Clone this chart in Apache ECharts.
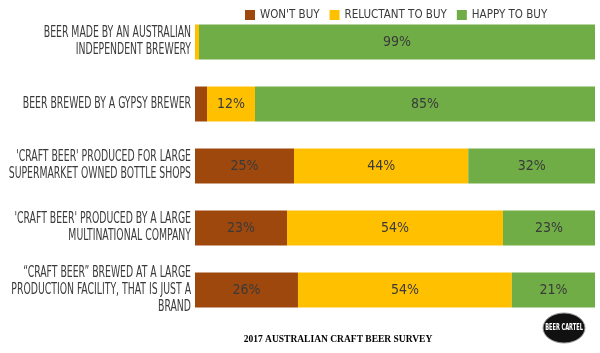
<!DOCTYPE html>
<html>
<head>
<meta charset="utf-8">
<script src="https://cdn.jsdelivr.net/npm/echarts@6/dist/echarts.min.js"></script>
<style>
  html, body { margin: 0; padding: 0; background: #fff; }
  #chart { width: 600px; height: 353px; }
</style>
</head>
<body>
<div id="chart"></div>
<script>
const categories = [
  'BEER MADE BY AN AUSTRALIAN\nINDEPENDENT BREWERY',
  'BEER BREWED BY A GYPSY BREWER',
  "'CRAFT BEER' PRODUCED FOR LARGE\nSUPERMARKET OWNED BOTTLE SHOPS",
  "'CRAFT BEER' PRODUCED BY A LARGE\nMULTINATIONAL COMPANY",
  '\u201CCRAFT BEER\u201D BREWED AT A LARGE\nPRODUCTION FACILITY, THAT IS JUST A\nBRAND'
];
const wontBuy = [0, 3, 25, 23, 26];
const reluctant = [1, 12, 44, 54, 54];
const happy = [99, 85, 32, 23, 21];
const seriesNames = ["WON'T BUY", 'RELUCTANT TO BUY', 'HAPPY TO BUY'];
const colors = ['#9e480e', '#ffc000', '#70ad47'];

const font = '"DejaVu Sans Condensed", sans-serif';
const textColor = '#3a3a3a';
const rowTotals = categories.map((_, i) => wontBuy[i] + reluctant[i] + happy[i]);

const chart = echarts.init(document.getElementById('chart'));

function makeSeries(name, values, color) {
  return {
    name: name,
    type: 'bar',
    stack: 'total',
    barWidth: 35,
    itemStyle: { color: color },
    label: {
      show: true,
      position: 'inside',
      color: textColor,
      fontFamily: font,
      fontSize: 14,
      formatter: (p) => (values[p.dataIndex] >= 5 ? values[p.dataIndex] + '%' : '')
    },
    data: values.map((v, i) => (v / rowTotals[i]) * 100)
  };
}

chart.setOption({
  animation: false,
  color: colors,
  legend: {
    top: 4,
    left: 240,
    itemWidth: 10,
    itemHeight: 10,
    itemGap: 10,
    icon: 'rect',
    textStyle: { color: textColor, fontFamily: font, fontSize: 11.5 },
    data: seriesNames
  },
  title: {
    text: '2017 AUSTRALIAN CRAFT BEER SURVEY',
    left: 333,
    textAlign: 'center',
    top: 330,
    textStyle: {
      fontFamily: '"Liberation Serif", "DejaVu Serif", serif',
      fontWeight: 'bold',
      fontSize: 9.5,
      color: '#000'
    }
  },
  grid: { left: 195, right: 5, top: 11, bottom: 32, outerBoundsMode: 'none', containLabel: false },
  xAxis: {
    type: 'value',
    min: 0,
    max: 100,
    show: false
  },
  yAxis: {
    type: 'category',
    inverse: true,
    data: categories,
    axisLine: { show: false },
    axisTick: { show: false },
    axisLabel: { show: false }
  },
  series: [
    makeSeries(seriesNames[0], wontBuy, colors[0]),
    makeSeries(seriesNames[1], reluctant, colors[1]),
    makeSeries(seriesNames[2], happy, colors[2])
  ]
});

// category labels: tall, narrow lettering, placed from the y axis scale
const labelGraphics = categories.map((name, i) => ({
  type: 'text',
  x: 191,
  y: chart.convertToPixel({ yAxisIndex: 0 }, i),
  scaleX: 0.69,
  style: {
    text: name,
    fill: textColor,
    font: '15px ' + font,
    align: 'right',
    verticalAlign: 'middle',
    lineHeight: 17
  }
}));

chart.setOption({
  graphic: labelGraphics.concat([
    {
      type: 'ellipse',
      shape: { cx: 564, cy: 328, rx: 21, ry: 15 },
      style: { fill: '#111', stroke: '#999', lineWidth: 1 }
    },
    {
      type: 'text',
      x: 564,
      y: 328,
      scaleX: 0.7,
      style: {
        text: 'BEER CARTEL',
        fill: '#fff',
        font: 'bold 8px ' + font,
        align: 'center',
        verticalAlign: 'middle'
      }
    }
  ])
});
</script>
</body>
</html>
